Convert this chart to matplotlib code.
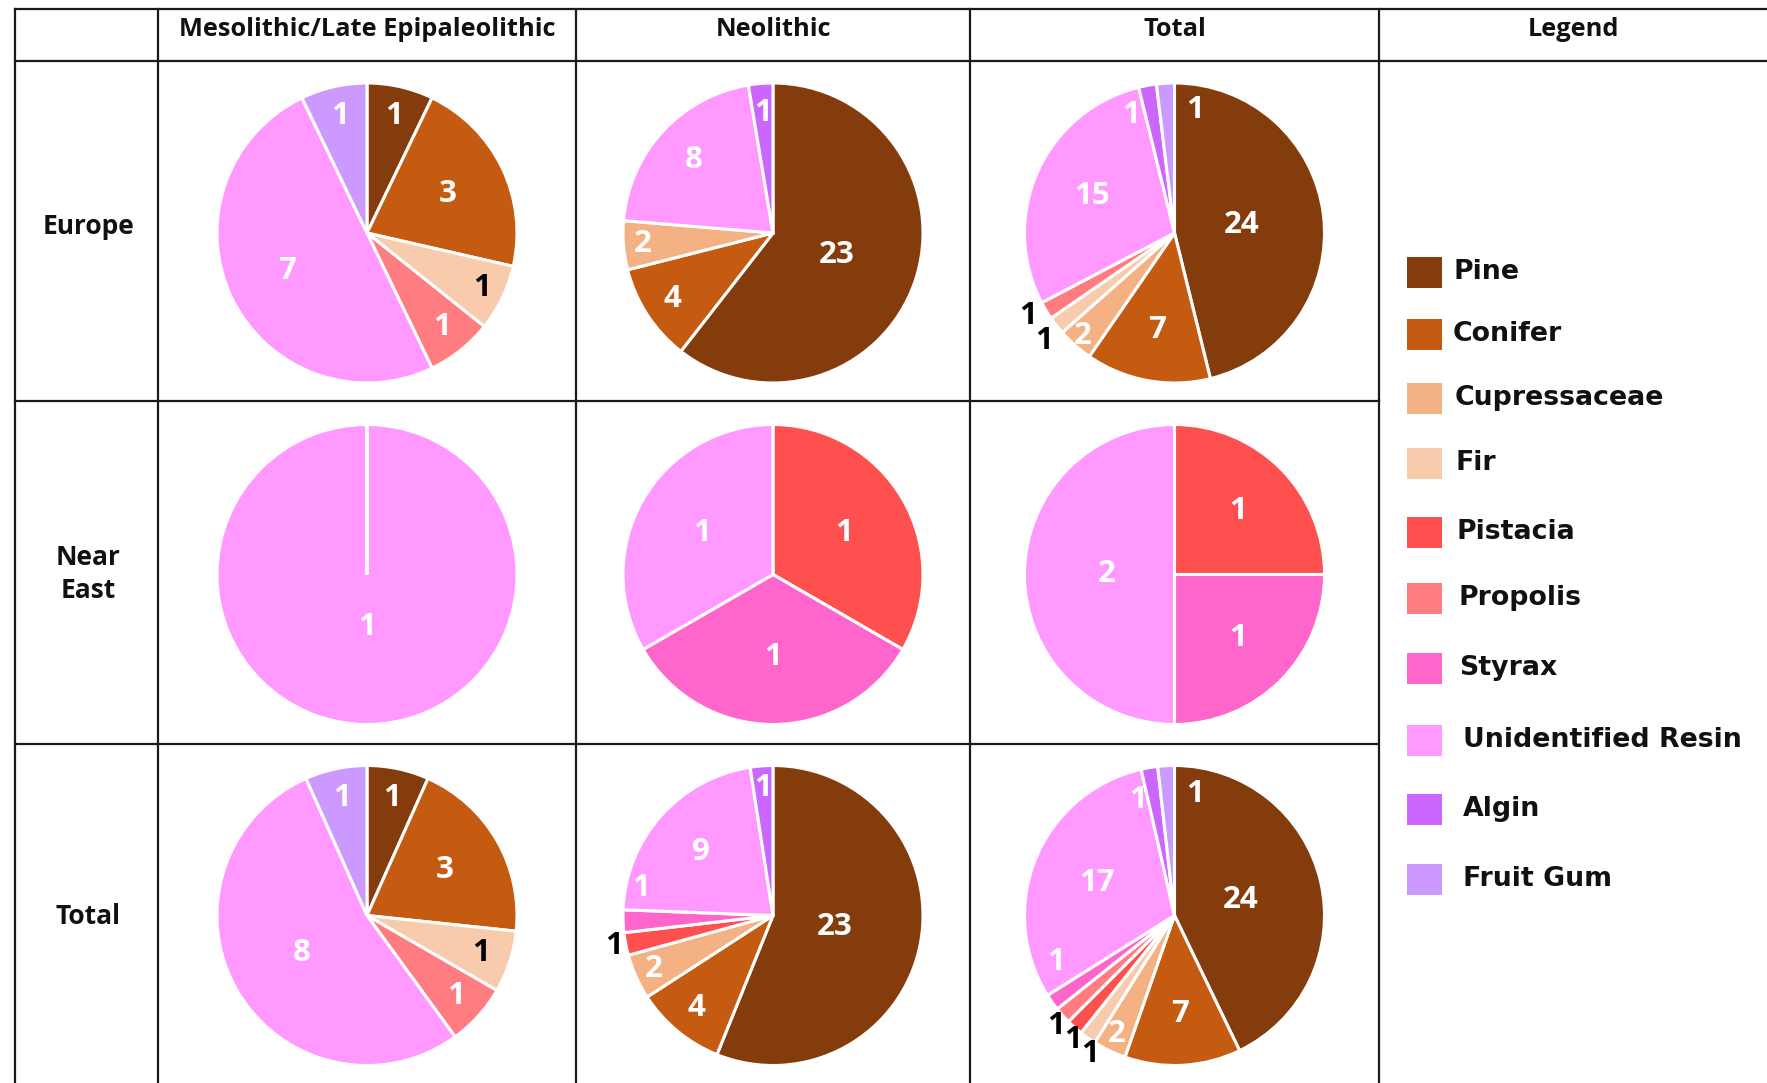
import numpy as np
import matplotlib
matplotlib.use('Agg')
import matplotlib.pyplot as plt
from matplotlib.lines import Line2D
from matplotlib.patches import Rectangle

W, H = 1767, 1083

categories = ['Pine', 'Conifer', 'Cupressaceae', 'Fir', 'Pistacia', 'Propolis',
              'Styrax', 'Unidentified Resin', 'Algin', 'Fruit Gum']
colors = ['#843C0C', '#C55A11', '#F4B183', '#F8CBAD', '#FF5050', '#FF7C80',
          '#FF66CC', '#FF99FF', '#CC66FF', '#CC99FF']

periods = ['Mesolithic/Late Epipaleolithic', 'Neolithic', 'Total']
regions = ['Europe', 'Near\nEast', 'Total']

# sample counts, same order as categories
europe_meso = [1, 3, 0, 1, 0, 1, 0, 7, 0, 1]
europe_neo = [23, 4, 2, 0, 0, 0, 0, 8, 1, 0]
europe_total = [24, 7, 2, 1, 0, 1, 0, 15, 1, 1]
neareast_meso = [0, 0, 0, 0, 0, 0, 0, 1, 0, 0]
neareast_neo = [0, 0, 0, 0, 1, 0, 1, 1, 0, 0]
neareast_total = [0, 0, 0, 0, 1, 0, 1, 2, 0, 0]
total_meso = [1, 3, 0, 1, 0, 1, 0, 8, 0, 1]
total_neo = [23, 4, 2, 0, 1, 0, 1, 9, 1, 0]
total_total = [24, 7, 2, 1, 1, 1, 1, 17, 1, 1]

grid = [[europe_meso, europe_neo, europe_total],
        [neareast_meso, neareast_neo, neareast_total],
        [total_meso, total_neo, total_total]]

# label tweaks: (row, col, category) -> (distance, clockwise shift in deg, colour)
tweaks = {
    (0, 0, 'Fir'): (0.85, 0, 'black'),
    (0, 0, 'Unidentified Resin'): (0.59, 0, 'white'),
    (0, 1, 'Cupressaceae'): (0.87, 0, 'white'),
    (0, 1, 'Unidentified Resin'): (0.72, 0, 'white'),
    (0, 2, 'Conifer'): (0.66, 0, 'white'),
    (0, 2, 'Cupressaceae'): (0.92, 0, 'white'),
    (0, 2, 'Fir'): (1.13, -1.5, 'black'),
    (0, 2, 'Propolis'): (1.12, 1.6, 'black'),
    (0, 2, 'Algin'): (0.84, -10, 'white'),
    (0, 2, 'Fruit Gum'): (0.83, 13, 'white'),
    (1, 0, 'Unidentified Resin'): (0.35, 0, 'white'),
    (1, 1, 'Pistacia'): (0.55, 0, 'white'),
    (1, 1, 'Styrax'): (0.55, 0, 'white'),
    (1, 1, 'Unidentified Resin'): (0.55, 0, 'white'),
    (2, 0, 'Fir'): (0.8, 0, 'black'),
    (2, 0, 'Unidentified Resin'): (0.5, 0, 'white'),
    (2, 1, 'Pine'): (0.42, 0, 'white'),
    (2, 1, 'Cupressaceae'): (0.87, 0, 'white'),
    (2, 1, 'Pistacia'): (1.08, 0, 'black'),
    (2, 1, 'Styrax'): (0.9, 14, 'white'),
    (2, 1, 'Unidentified Resin'): (0.64, 0, 'white'),
    (2, 1, 'Algin'): (0.85, 0, 'white'),
    (2, 2, 'Conifer'): (0.66, 0, 'white'),
    (2, 2, 'Cupressaceae'): (0.88, 0, 'white'),
    (2, 2, 'Fir'): (1.085, -4, 'black'),
    (2, 2, 'Pistacia'): (1.07, -2.5, 'black'),
    (2, 2, 'Propolis'): (1.08, -1.3, 'black'),
    (2, 2, 'Styrax'): (0.85, 14, 'white'),
    (2, 2, 'Unidentified Resin'): (0.56, 0, 'white'),
    (2, 2, 'Algin'): (0.81, -8, 'white'),
    (2, 2, 'Fruit Gum'): (0.82, 13, 'white'),
}

col_x = [15, 158, 576, 970, 1379, 1767]
row_y = [9, 61, 401, 744, 1083]
R = 150

font = 'Open Sans'
legend_y = [272, 334, 398, 463, 532, 598, 668, 740, 809, 879]
legend_tx = [1453, 1453, 1455, 1455, 1456, 1458, 1459, 1463, 1463, 1463]


def fx(x):
    return x / W


def fy(y):
    return 1 - y / H


fig = plt.figure(figsize=(W / 100, H / 100), dpi=100)
fig.patch.set_facecolor('white')

# table lines
lk = dict(color='#1a1a1a', linewidth=1.6)
for y in row_y[:2]:
    fig.add_artist(Line2D([fx(col_x[0]), 1], [fy(y), fy(y)], **lk))
for y in row_y[2:4]:
    fig.add_artist(Line2D([fx(col_x[0]), fx(col_x[4])], [fy(y), fy(y)], **lk))
for x in col_x[:5]:
    fig.add_artist(Line2D([fx(x), fx(x)], [fy(row_y[0]), 0], **lk))

# headers
hk = dict(ha='center', va='center', fontsize=18.3, fontweight='bold', family=font,
          color='#111111')
for j, p in enumerate(periods):
    xc = (col_x[j + 1] + col_x[j + 2]) / 2
    fig.text(fx(xc), fy(29), p, **hk)
fig.text(fx((col_x[4] + col_x[5]) / 2), fy(29), 'Legend', **hk)

row_text_y = [227, 574, 916]
for i, r in enumerate(regions):
    fig.text(fx(88), fy(row_text_y[i]), r, ha='center', va='center', fontsize=19,
             fontweight='bold', family=font, color='#111111', linespacing=1.25)

# pies
for i in range(3):
    for j in range(3):
        vals = np.array(grid[i][j])
        keep = vals > 0
        cx = (col_x[j + 1] + col_x[j + 2]) / 2
        cy = (row_y[i + 1] + row_y[i + 2]) / 2 + 2
        ax = fig.add_axes([fx(cx - R), fy(cy + R), 2 * R / W, 2 * R / H])
        wedges, _ = ax.pie(vals[keep], colors=[c for c, k in zip(colors, keep) if k],
                           startangle=90, counterclock=False, radius=1,
                           wedgeprops=dict(edgecolor='white', linewidth=2.2))
        ax.set_xlim(-1.0, 1.0)
        ax.set_ylim(-1.0, 1.0)
        ax.axis('off')
        names = [c for c, k in zip(categories, keep) if k]
        total = vals.sum()
        for w, name, v in zip(wedges, names, vals[keep]):
            if w.theta2 - w.theta1 >= 359.999:
                w.set_theta1(w.theta1 + 1e-4)
            frac = v / total
            if frac >= 0.4:
                d = 0.45
            elif frac >= 0.15:
                d = 0.6
            else:
                d = 0.8
            shift, tc = 0, 'white'
            if (i, j, name) in tweaks:
                d, shift, tc = tweaks[(i, j, name)]
            ang = np.deg2rad((w.theta1 + w.theta2) / 2 - shift)
            ax.text(d * np.cos(ang), d * np.sin(ang), str(v), ha='center', va='center',
                    fontsize=22.5, fontweight='bold', family=font, color=tc)

# legend
for k, (name, c) in enumerate(zip(categories, colors)):
    yc = legend_y[k]
    fig.add_artist(Rectangle((fx(1407), fy(yc + 16)), 35 / W, 31 / H,
                             facecolor=c, edgecolor='none', transform=fig.transFigure))
    fig.text(fx(legend_tx[k]), fy(yc), name, ha='left', va='center', fontsize=19.3,
             fontweight='bold', family='DejaVu Sans', color='#111111')

fig.savefig('out.png', dpi=100)
